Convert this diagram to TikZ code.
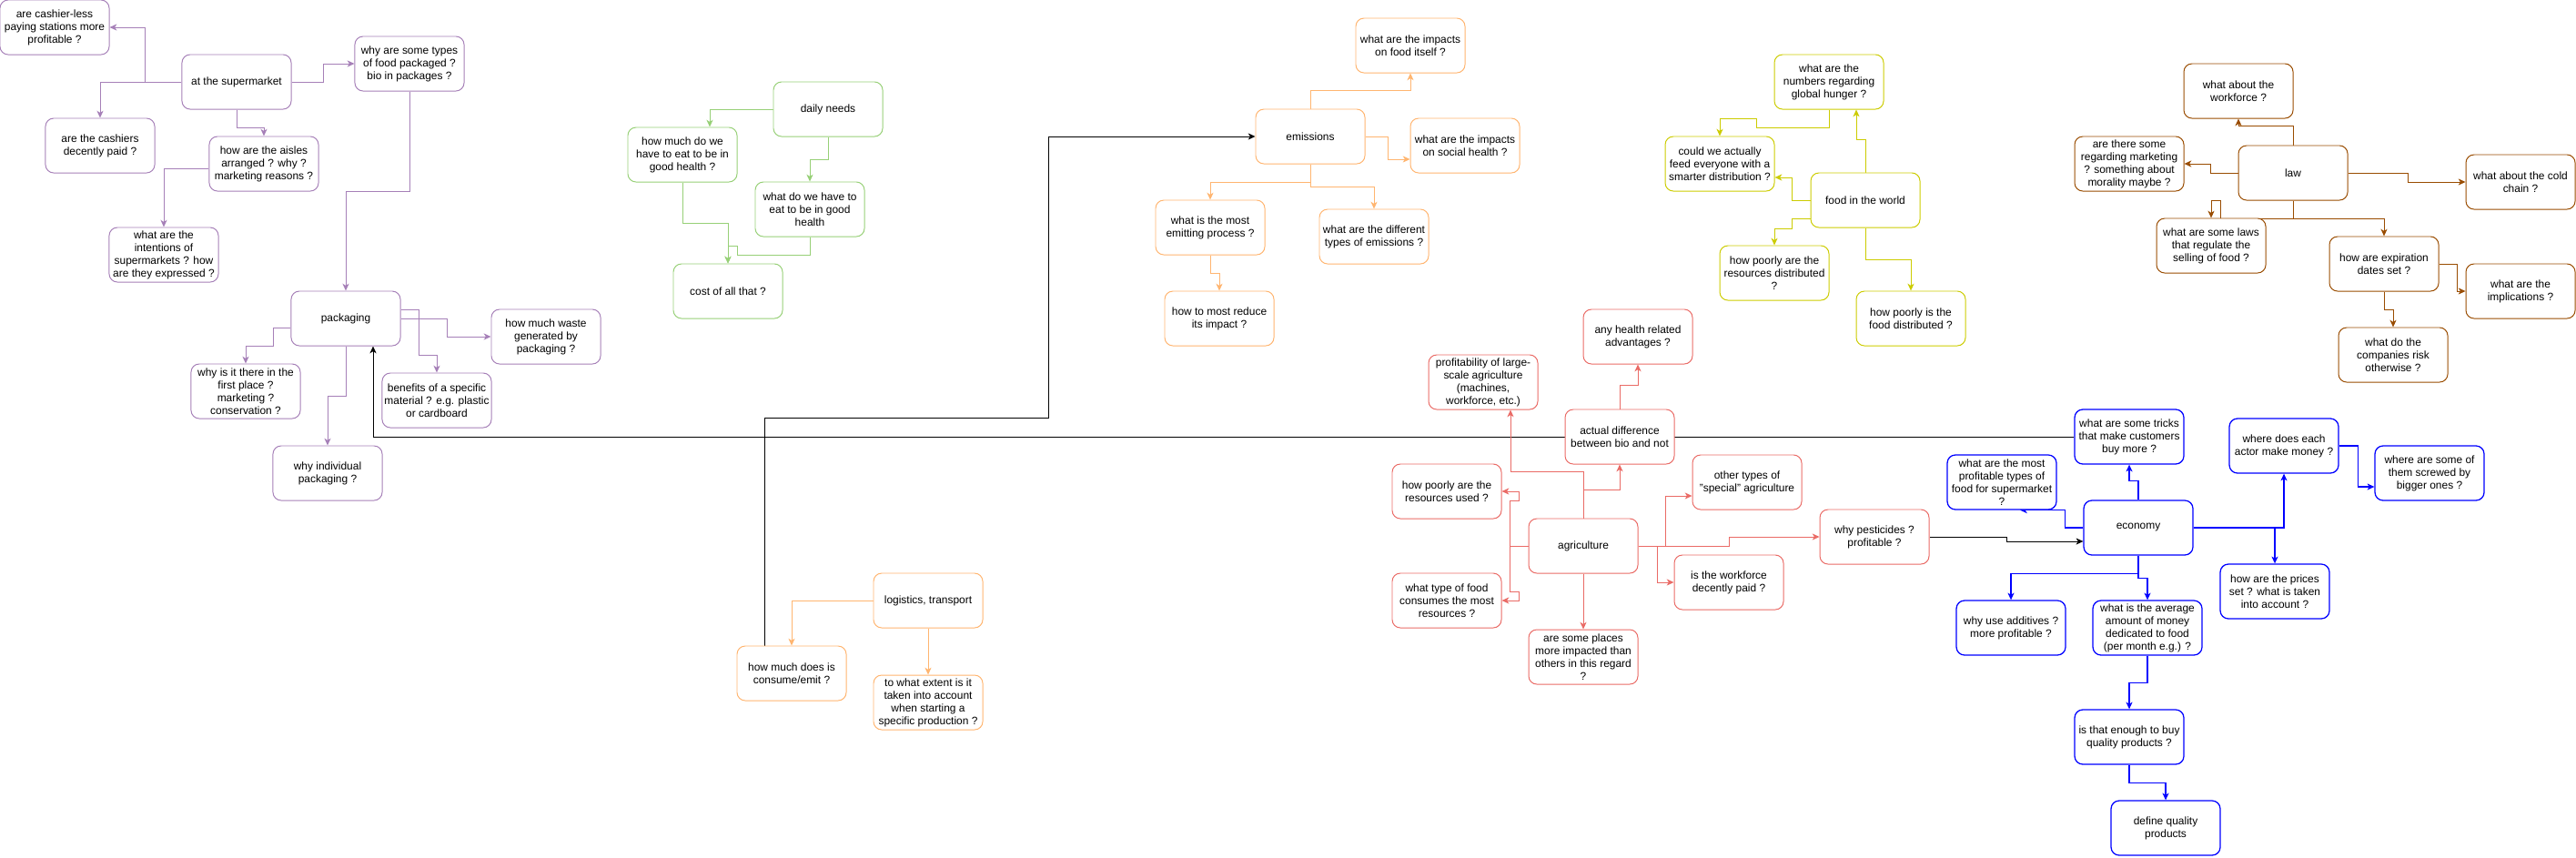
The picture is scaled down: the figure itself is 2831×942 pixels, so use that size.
\documentclass[tikz,border=0pt]{standalone}
\usepackage{fontspec}
\setmainfont{Liberation Sans}
\usepackage{tikz}
\usetikzlibrary{arrows.meta}
\usetikzlibrary{positioning}
\pgfdeclarelayer{background}
\pgfsetlayers{background,main}
\definecolor{purpleline}{HTML}{A680B8}
\definecolor{greenline}{HTML}{97D077}
\definecolor{orangeline}{HTML}{FFB570}
\definecolor{yellowline}{HTML}{CCCC00}
\definecolor{brownline}{HTML}{994C00}
\definecolor{redline}{HTML}{EA6B66}
\definecolor{blueline}{HTML}{0000FF}
\tikzstyle{box} = [rectangle, rounded corners=0.225cm, minimum width=3cm, minimum height=1.5cm, inner sep=1pt, align=center, fill=white, line width=0.7pt, font=\fontsize{8.5pt}{10pt}\selectfont]
\tikzstyle{purplebox} = [box, draw=purpleline]
\tikzstyle{greenbox} = [box, draw=greenline]
\tikzstyle{orangebox} = [box, draw=orangeline]
\tikzstyle{yellowbox} = [box, draw=yellowline]
\tikzstyle{brownbox} = [box, draw=brownline]
\tikzstyle{redbox} = [box, draw=redline]
\tikzstyle{bluebox} = [box, draw=blueline, line width=0.9pt]
\tikzstyle{arrow} = [line width=0.6pt, -{Stealth[length=5.5pt,width=5pt,inset=1.5pt]}]
\tikzstyle{purplearrow} = [arrow, draw=purpleline]
\tikzstyle{greenarrow} = [arrow, draw=greenline]
\tikzstyle{orangearrow} = [arrow, draw=orangeline]
\tikzstyle{yellowarrow} = [arrow, draw=yellowline]
\tikzstyle{brownarrow} = [arrow, draw=brownline]
\tikzstyle{redarrow} = [arrow, draw=redline]
\tikzstyle{bluearrow} = [arrow, draw=blueline, line width=0.8pt]
\tikzstyle{blackarrow} = [arrow, draw=black]

\begin{document}
\begin{tikzpicture}[x=0.025cm, y=-0.025cm]
\useasboundingbox (0,0) rectangle (2831,942);

\node (cashless) [purplebox] at (60,30) {are cashier-less\\paying stations more\\profitable ?};
\node (super) [purplebox] at (260,90) {at the supermarket};
\node (whytypes) [purplebox] at (450,70) {why are some types\\of food packaged ?\\bio in packages ?};
\node (cashpaid) [purplebox] at (110,160) {are the cashiers\\decently paid ?};
\node (aisles) [purplebox] at (290,180) {how are the aisles\\arranged ? why ?\\marketing reasons ?};
\node (intent) [purplebox] at (180,280) {what are the\\intentions of\\supermarkets ? how\\are they expressed ?};
\node (pack) [purplebox] at (380,350) {packaging};
\node (whyfirst) [purplebox] at (270,430) {why is it there in the\\first place ?\\marketing ?\\conservation ?};
\node (benefits) [purplebox] at (480,440) {benefits of a specific\\material ? e.g. plastic\\or cardboard};
\node (waste) [purplebox] at (600,370) {how much waste\\generated by\\packaging ?};
\node (indiv) [purplebox] at (360,520) {why individual\\packaging ?};

\node (daily) [greenbox] at (910,120) {daily needs};
\node (howeat) [greenbox] at (750,170) {how much do we\\have to eat to be in\\good health ?};
\node (whatdo) [greenbox] at (890,230) {what do we have to\\eat to be in good\\health};
\node (cost) [greenbox] at (800,320) {cost of all that ?};

\node (emis) [orangebox] at (1440,150) {emissions};
\node (impfood) [orangebox] at (1550,50) {what are the impacts\\on food itself ?};
\node (social) [orangebox] at (1610,160) {what are the impacts\\on social health ?};
\node (emitting) [orangebox] at (1330,250) {what is the most\\emitting process ?};
\node (types) [orangebox] at (1510,260) {what are the different\\types of emissions ?};
\node (reduce) [orangebox] at (1340,350) {how to most reduce\\its impact ?};
\node (logi) [orangebox] at (1020,660) {logistics, transport};
\node (consume) [orangebox] at (870,740) {how much does is\\consume/emit ?};
\node (extent) [orangebox, below=1.275cm of logi] {to what extent is it\\taken into account\\when starting a\\specific production ?};

\node (numbers) [yellowbox] at (2010,90) {what are the\\numbers regarding\\global hunger ?};
\node (could) [yellowbox] at (1890,180) {could we actually\\feed everyone with a\\smarter distribution ?};
\node (world) [yellowbox] at (2050,220) {food in the world};
\node (resdist) [yellowbox] at (1950,300) {how poorly are the\\resources distributed\\?};
\node (fooddist) [yellowbox] at (2100,350) {how poorly is the\\food distributed ?};

\node (work) [brownbox] at (2460,100) {what about the\\workforce ?};
\node (marketing) [brownbox] at (2340,180) {are there some\\regarding marketing\\? something about\\morality maybe ?};
\node (law) [brownbox] at (2520,190) {law};
\node (cold) [brownbox] at (2770,200) {what about the cold\\chain ?};
\node (somelaws) [brownbox] at (2430,270) {what are some laws\\that regulate the\\selling of food ?};
\node (expir) [brownbox] at (2620,290) {how are expiration\\dates set ?};
\node (implic) [brownbox] at (2770,320) {what are the\\implications ?};
\node (companies) [brownbox] at (2630,390) {what do the\\companies risk\\otherwise ?};

\node (health) [redbox] at (1800,370) {any health related\\advantages ?};
\node (profit) [redbox] at (1630,420) {profitability of large-\\scale agriculture\\(machines,\\workforce, etc.)};
\node (diff) [redbox] at (1780,480) {actual difference\\between bio and not};
\node (resused) [redbox] at (1590,540) {how poorly are the\\resources used ?};
\node (other) [redbox] at (1920,530) {other types of\\"special" agriculture};
\node (agri) [redbox] at (1740,600) {agriculture};
\node (pest) [redbox] at (2060,590) {why pesticides ?\\profitable ?};
\node (agwork) [redbox] at (1900,640) {is the workforce\\decently paid ?};
\node (whattype) [redbox] at (1590,660) {what type of food\\consumes the most\\resources ?};
\node (places) [redbox, below=1.525cm of agri] {are some places\\more impacted than\\others in this regard\\?};

\node (tricks) [bluebox] at (2340,480) {what are some tricks\\that make customers\\buy more ?};
\node (actor) [bluebox] at (2510,490) {where does each\\actor make money ?};
\node (screwed) [bluebox] at (2670,520) {where are some of\\them screwed by\\bigger ones ?};
\node (mostprof) [bluebox] at (2200,530) {what are the most\\profitable types of\\food for supermarket\\?};
\node (econ) [bluebox] at (2350,580) {economy};
\node (prices) [bluebox] at (2500,650) {how are the prices\\set ? what is taken\\into account ?};
\node (additives) [bluebox] at (2210,690) {why use additives ?\\more profitable ?};
\node (average) [bluebox] at (2360,690) {what is the average\\amount of money\\dedicated to food\\(per month e.g.) ?};
\node (enough) [bluebox] at (2340,810) {is that enough to buy\\quality products ?};
\node (define) [bluebox] at (2380,910) {define quality\\products};

\begin{pgfonlayer}{background}
\draw [purplearrow] (super.west) -- ++(-40,0) |- (cashless);
\draw [purplearrow] (super.west) -| (cashpaid);
\draw [purplearrow] (super.south) -- ++(0,20) -| (aisles);
\draw [purplearrow] (super.east) -- ++(35,0) |- (whytypes);
\draw [purplearrow] ([yshift=-0.125cm]aisles.west) -| (intent);
\draw [purplearrow] (whytypes.south) -- ++(0,110) -| (pack);
\draw [purplearrow] ([yshift=-0.25cm]pack.west) -- ++(-19,0) -- ++(0,20) -| (whyfirst);
\draw [purplearrow] (pack.south) -- ++(0,55) -| (indiv);
\draw [purplearrow] ([yshift=0.25cm]pack.east) -- ++(20,0) -- ++(0,50) -| (benefits);
\draw [purplearrow] (pack.east) -- ++(51,0) |- (waste);

\draw [greenarrow] (daily.west) -| ([xshift=0.75cm]howeat.north);
\draw [greenarrow] (daily.south) -- ++(0,25) -| (whatdo);
\draw [greenarrow] (howeat.south) -- ++(0,45) -| (cost);
\draw [greenarrow] (whatdo.south) -- ++(0,20) -- ++(-80,0) -- ++(0,-10) -| (cost);

\draw [orangearrow] (emis.north) -- ++(0,-20) -| (impfood);
\draw [orangearrow] (emis.east) -- ++(25,0) |- ([yshift=-0.375cm]social.west);
\draw [orangearrow] (emis.south) -- ++(0,20) -| (emitting);
\draw [orangearrow] (emis.south) -- ++(0,25) -| (types);
\draw [orangearrow] (emitting.south) -- ++(0,20) -| (reduce);
\draw [orangearrow] (logi.west) -| (consume);
\draw [orangearrow] (logi) -- (extent);

\draw [blackarrow] ([xshift=-0.75cm]consume.north) -- ++(0,-250) -- ++(312,0) |- (emis);
\draw [blackarrow] (tricks.west) -| ([xshift=0.75cm]pack.south);
\draw [blackarrow] (pest.east) -- ++(85,0) |- ([yshift=-0.375cm]econ.west);

\draw [yellowarrow] (world.north) -- ++(0,-36) -| ([xshift=0.75cm]numbers.south);
\draw [yellowarrow] (numbers.south) -- ++(0,20) -- ++(-80,0) -- ++(0,-10) -| (could);
\draw [yellowarrow] (world.west) -- ++(-20,0) |- ([yshift=-0.375cm]could.east);
\draw [yellowarrow] ([yshift=-0.5cm]world.west) -- ++(-20,0) -- ++(0,11) -| (resdist);
\draw [yellowarrow] (world.south) -- ++(0,35) -| (fooddist);

\draw [brownarrow] (law.north) -- ++(0,-21) -| (work);
\draw [brownarrow] (law.west) -- ++(-30,0) |- (marketing);
\draw [brownarrow] (law.east) -- ++(66,0) |- (cold);
\draw [brownarrow] (law.south) -- ++(0,20) -- ++(-80,0) -- ++(0,-20) -| (somelaws);
\draw [brownarrow] (law.south) -- ++(0,20) -| (expir);
\draw [brownarrow] (expir.east) -- ++(20,0) |- (implic);
\draw [brownarrow] (expir.south) -- ++(0,20) -| (companies);

\draw [redarrow] (agri.north) -- ++(0,-31) -| (diff);
\draw [redarrow] (diff.north) -- ++(0,-26) -| (health);
\draw [redarrow] (agri.north) -- ++(0,-51) -| ([xshift=0.75cm]profit.south);
\draw [redarrow] (agri.west) -- ++(-20,0) -- ++(0,-50) -- ++(10,0) |- (resused);
\draw [redarrow] (agri.west) -- ++(-20,0) -- ++(0,50) -- ++(10,0) |- (whattype);
\draw [redarrow] (agri) -- (places);
\draw [redarrow] (agri.east) -- ++(30,0) |- ([yshift=-0.375cm]other.west);
\draw [redarrow] (agri.east) -- ++(21,0) |- (agwork);
\draw [redarrow] (agri.east) -- ++(100,0) |- (pest);

\draw [bluearrow] (econ.north) -- ++(0,-21) -| (tricks);
\draw [bluearrow] (econ.west) -- ++(-20,0) |- ([xshift=0.5cm]mostprof.south);
\draw [bluearrow] (econ.east) -| (actor);
\draw [bluearrow] (econ.east) -| (prices);
\draw [bluearrow] (actor.east) -- ++(21,0) |- ([yshift=-0.375cm]screwed.west);
\draw [bluearrow] (econ.south) -- ++(0,20) -| (additives);
\draw [bluearrow] (econ.south) -- ++(0,25) -| (average);
\draw [bluearrow] (average.south) -- ++(0,30) -| (enough);
\draw [bluearrow] (enough.south) -- ++(0,20) -| (define);
\end{pgfonlayer}
\end{tikzpicture}
\end{document}
